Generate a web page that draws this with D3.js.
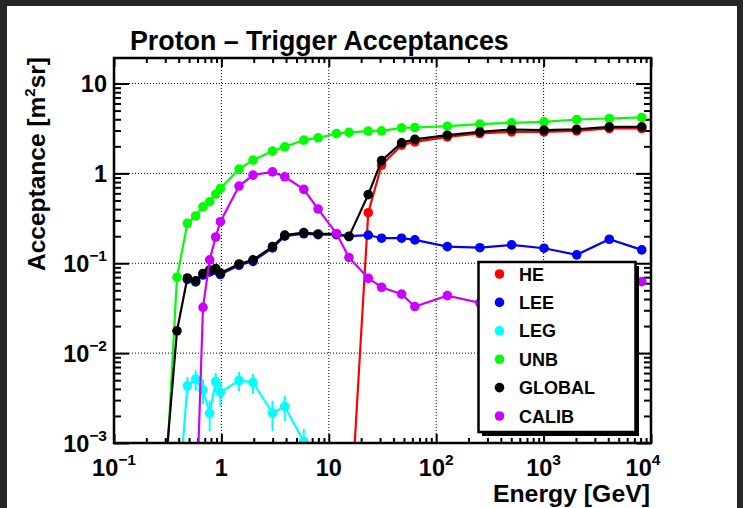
<!DOCTYPE html>
<html><head><meta charset="utf-8">
<script src="https://cdn.jsdelivr.net/npm/d3@7"></script>
<style>
html,body{margin:0;padding:0;background:#262626;}
svg{display:block;}
text{font-family:"Liberation Sans",Arial,Helvetica,sans-serif;font-weight:bold;}
</style></head>
<body><svg id="c" width="743" height="508"></svg>
<script>
// ---- data ----
const energy = [0.303, 0.386, 0.482, 0.576, 0.674, 0.778, 0.885, 0.979, 1.46, 1.97, 2.99, 3.89, 5.85, 7.95, 11.8, 15.4, 23.3, 31.0, 47.6, 63.3, 127, 255, 504, 1009, 2033, 4093, 8203];
const seriesNames = ["HE", "LEE", "LEG", "UNB", "GLOBAL", "CALIB"];
const seriesColors = ["#ff0000", "#0000ff", "#00ffff", "#00ff00", "#000000", "#cc00ff"];
const heValues = [null,null,null,null,null,null,null,null,null,null,null,null,null,null,null, 8e-5, 0.365, 1.24, 2.06, 2.24, 2.55, 2.78, 2.90, 2.90, 2.97, 3.16, 3.16];
const leeValues = [null,null, 0.066, 0.062, 0.074, 0.080, 0.083, 0.075, 0.095, 0.105, 0.148, 0.200, 0.213, 0.208, 0.208, 0.200, 0.206, 0.19, 0.19, 0.182, 0.153, 0.149, 0.16, 0.147, 0.124, 0.185, 0.141];
const legValues = [null, 1.5e-4, 0.00433, 0.00514, 0.0039, 0.00215, 0.00483, 0.00365, 0.00496, 0.00471, 0.00215, 0.00255, 0.00104, null,null,null,null,null,null,null,null,null,null,null,null,null,null];
const legErrors = [null, 0, 0.0011, 0.0013, 0.0012, 0.0008, 0.0012, 0.0011, 0.0012, 0.0012, 0.0008, 0.0008, 0.0004, null,null,null,null,null,null,null,null,null,null,null,null,null,null];
const unbValues = [3.5e-4, 0.0699, 0.278, 0.336, 0.425, 0.484, 0.589, 0.681, 1.116, 1.406, 1.769, 1.976, 2.344, 2.488, 2.78, 2.86, 2.95, 2.97, 3.21, 3.24, 3.35, 3.53, 3.65, 3.74, 3.98, 4.08, 4.19];
const globalValues = [5.7e-4, 0.0177, 0.0686, 0.0636, 0.077, 0.0843, 0.0876, 0.078, 0.0983, 0.109, 0.153, 0.206, 0.219, 0.212, 0.212, 0.198, 0.581, 1.388, 2.19, 2.39, 2.66, 2.90, 3.08, 3.03, 3.10, 3.29, 3.29];
const calibValues = [null,null,null, 1.1e-4, 0.0323, 0.109, 0.196, 0.29, 0.723, 0.957, 1.04, 0.917, 0.664, 0.401, 0.214, 0.116, 0.0681, 0.0541, 0.0453, 0.033, 0.0436, 0.0362, 0.040, 0.045, 0.050, 0.055, 0.0625];
const xTickValues = [0.1, 1, 10, 100, 1000, 10000];
const xTickLabels = ["10^-1", "1", "10", "10^2", "10^3", "10^4"];
const yTickValues = [0.001, 0.01, 0.1, 1, 10];
const yTickLabels = ["10^-3", "10^-2", "10^-1", "1", "10"];
const titleText = "Proton \u2013 Trigger Acceptances";
const xTitle = "Energy [GeV]";

const allValues = [heValues, leeValues, legValues, unbValues, globalValues, calibValues];

// ---- layout ----
const svg = d3.select("#c");
const L = 114, R = 651, T = 58, B = 443;
svg.append("rect").attr("x", 7).attr("y", 6).attr("width", 730).attr("height", 502).attr("fill", "#fff");

const x = d3.scaleLog().domain([0.1, 1e4]).range([L, R]);
const y = d3.scaleLog().domain([1e-3, Math.pow(10, 1.284)]).range([B, T]);

// grid
const g = svg.append("g");
g.selectAll(".gx").data(xTickValues.slice(1, -1)).enter().append("line")
  .attr("x1", d => x(d)).attr("x2", d => x(d)).attr("y1", T).attr("y2", B)
  .attr("stroke", "#000").attr("stroke-width", 1).attr("stroke-dasharray", "1,2");
g.selectAll(".gy").data(yTickValues.slice(1)).enter().append("line")
  .attr("y1", d => y(d)).attr("y2", d => y(d)).attr("x1", L).attr("x2", R)
  .attr("stroke", "#000").attr("stroke-width", 1).attr("stroke-dasharray", "1,2");

// minor ticks
function minors(lo, hi) {
  const out = [];
  for (let e = Math.floor(Math.log10(lo)); e <= Math.ceil(Math.log10(hi)); e++)
    for (let k = 2; k <= 9; k++) { const v = k * Math.pow(10, e); if (v > lo && v < hi) out.push(v); }
  return out;
}
const xMin = minors(0.1, 1e4), yMin = minors(1e-3, y.domain()[1]);
function axis(gen, tr, vals, size) {
  const a = svg.append("g").attr("transform", tr)
    .call(gen.tickValues(vals).tickSize(size).tickFormat(""));
  a.select(".domain").remove();
  a.selectAll("line").attr("stroke", "#000").attr("stroke-width", 2);
}
axis(d3.axisBottom(x), `translate(0,${B})`, xTickValues, -9);
axis(d3.axisBottom(x), `translate(0,${B})`, xMin, -5);
axis(d3.axisTop(x), `translate(0,${T})`, xTickValues, -9);
axis(d3.axisTop(x), `translate(0,${T})`, xMin, -5);
axis(d3.axisLeft(y), `translate(${L},0)`, yTickValues, -15);
axis(d3.axisLeft(y), `translate(${L},0)`, yMin, -7);
axis(d3.axisRight(y), `translate(${R},0)`, yTickValues, -15);
axis(d3.axisRight(y), `translate(${R},0)`, yMin, -7);

// data
svg.append("clipPath").attr("id", "clip").append("rect")
  .attr("x", L).attr("y", T).attr("width", R - L).attr("height", B - T);
const plot = svg.append("g").attr("clip-path", "url(#clip)");
const line = d3.line().defined(d => d.v != null).x(d => x(d.e)).y(d => y(d.v));

allValues.forEach((vals, i) => {
  const pts = energy.map((e, j) => ({ e: e, v: vals[j], err: i === 2 ? legErrors[j] : null })).filter(d => d.v != null);
  const s = plot.append("g");
  if (i === 2) {
    s.selectAll(".eb").data(pts.filter(d => d.err)).enter().append("line")
      .attr("x1", d => x(d.e)).attr("x2", d => x(d.e))
      .attr("y1", d => y(d.v - d.err)).attr("y2", d => y(d.v + d.err))
      .attr("stroke", seriesColors[i]).attr("stroke-width", 2);
  }
  s.append("path").datum(pts).attr("d", line).attr("fill", "none")
    .attr("stroke", seriesColors[i]).attr("stroke-width", 2.2);
  s.selectAll("circle").data(pts.filter(d => d.v >= 1e-3 * 0.9)).enter().append("circle")
    .attr("cx", d => x(d.e)).attr("cy", d => y(d.v)).attr("r", 4.8).attr("fill", seriesColors[i]);
});

// frame
svg.append("rect").attr("x", L).attr("y", T).attr("width", R - L).attr("height", B - T)
  .attr("fill", "none").attr("stroke", "#000").attr("stroke-width", 2.5);

// tick labels
function supText(sel, str, fs) {
  const parts = str.split("^");
  sel.append("tspan").text(parts[0]);
  if (parts.length > 1) sel.append("tspan").attr("dy", -fs * 0.45).attr("font-size", fs * 0.66).text(parts[1].replace("-", "\u2212"));
}
xTickValues.forEach((v, i) => {
  const t = svg.append("text").attr("x", x(v) + (i === xTickValues.length - 1 ? -8 : 0)).attr("y", 476)
    .attr("text-anchor", "middle").attr("font-size", 23.5);
  supText(t, xTickLabels[i], 23.5);
});
yTickValues.forEach((v, i) => {
  const t = svg.append("text").attr("x", 107).attr("y", y(v) + 8.5)
    .attr("text-anchor", "end").attr("font-size", 23.5);
  supText(t, yTickLabels[i], 23.5);
});

// titles
svg.append("text").attr("x", 130).attr("y", 50).attr("font-size", 26.8).text(titleText);
svg.append("text").attr("x", 650).attr("y", 502).attr("text-anchor", "end").attr("font-size", 24.8).text(xTitle);
const yt = svg.append("text").attr("transform", "translate(45,57) rotate(-90)").attr("text-anchor", "end").attr("font-size", 24.5);
yt.append("tspan").text("Acceptance [m");
yt.append("tspan").attr("dy", -10).attr("font-size", 15).text("2");
yt.append("tspan").attr("dy", 10).text("sr]");

// legend
const lg = svg.append("g");
lg.append("rect").attr("x", 482).attr("y", 266).attr("width", 157).attr("height", 170).attr("fill", "#000");
lg.append("rect").attr("x", 478.5).attr("y", 262).attr("width", 157).attr("height", 170)
  .attr("fill", "#fff").attr("stroke", "#000").attr("stroke-width", 2.5);
seriesNames.forEach((n, i) => {
  const yy = 274 + i * 28.4;
  lg.append("circle").attr("cx", 499.5).attr("cy", yy).attr("r", 4.8).attr("fill", seriesColors[i]);
  lg.append("text").attr("x", 519).attr("y", yy + 6.5).attr("font-size", 18).text(n);
});
</script></body></html>
